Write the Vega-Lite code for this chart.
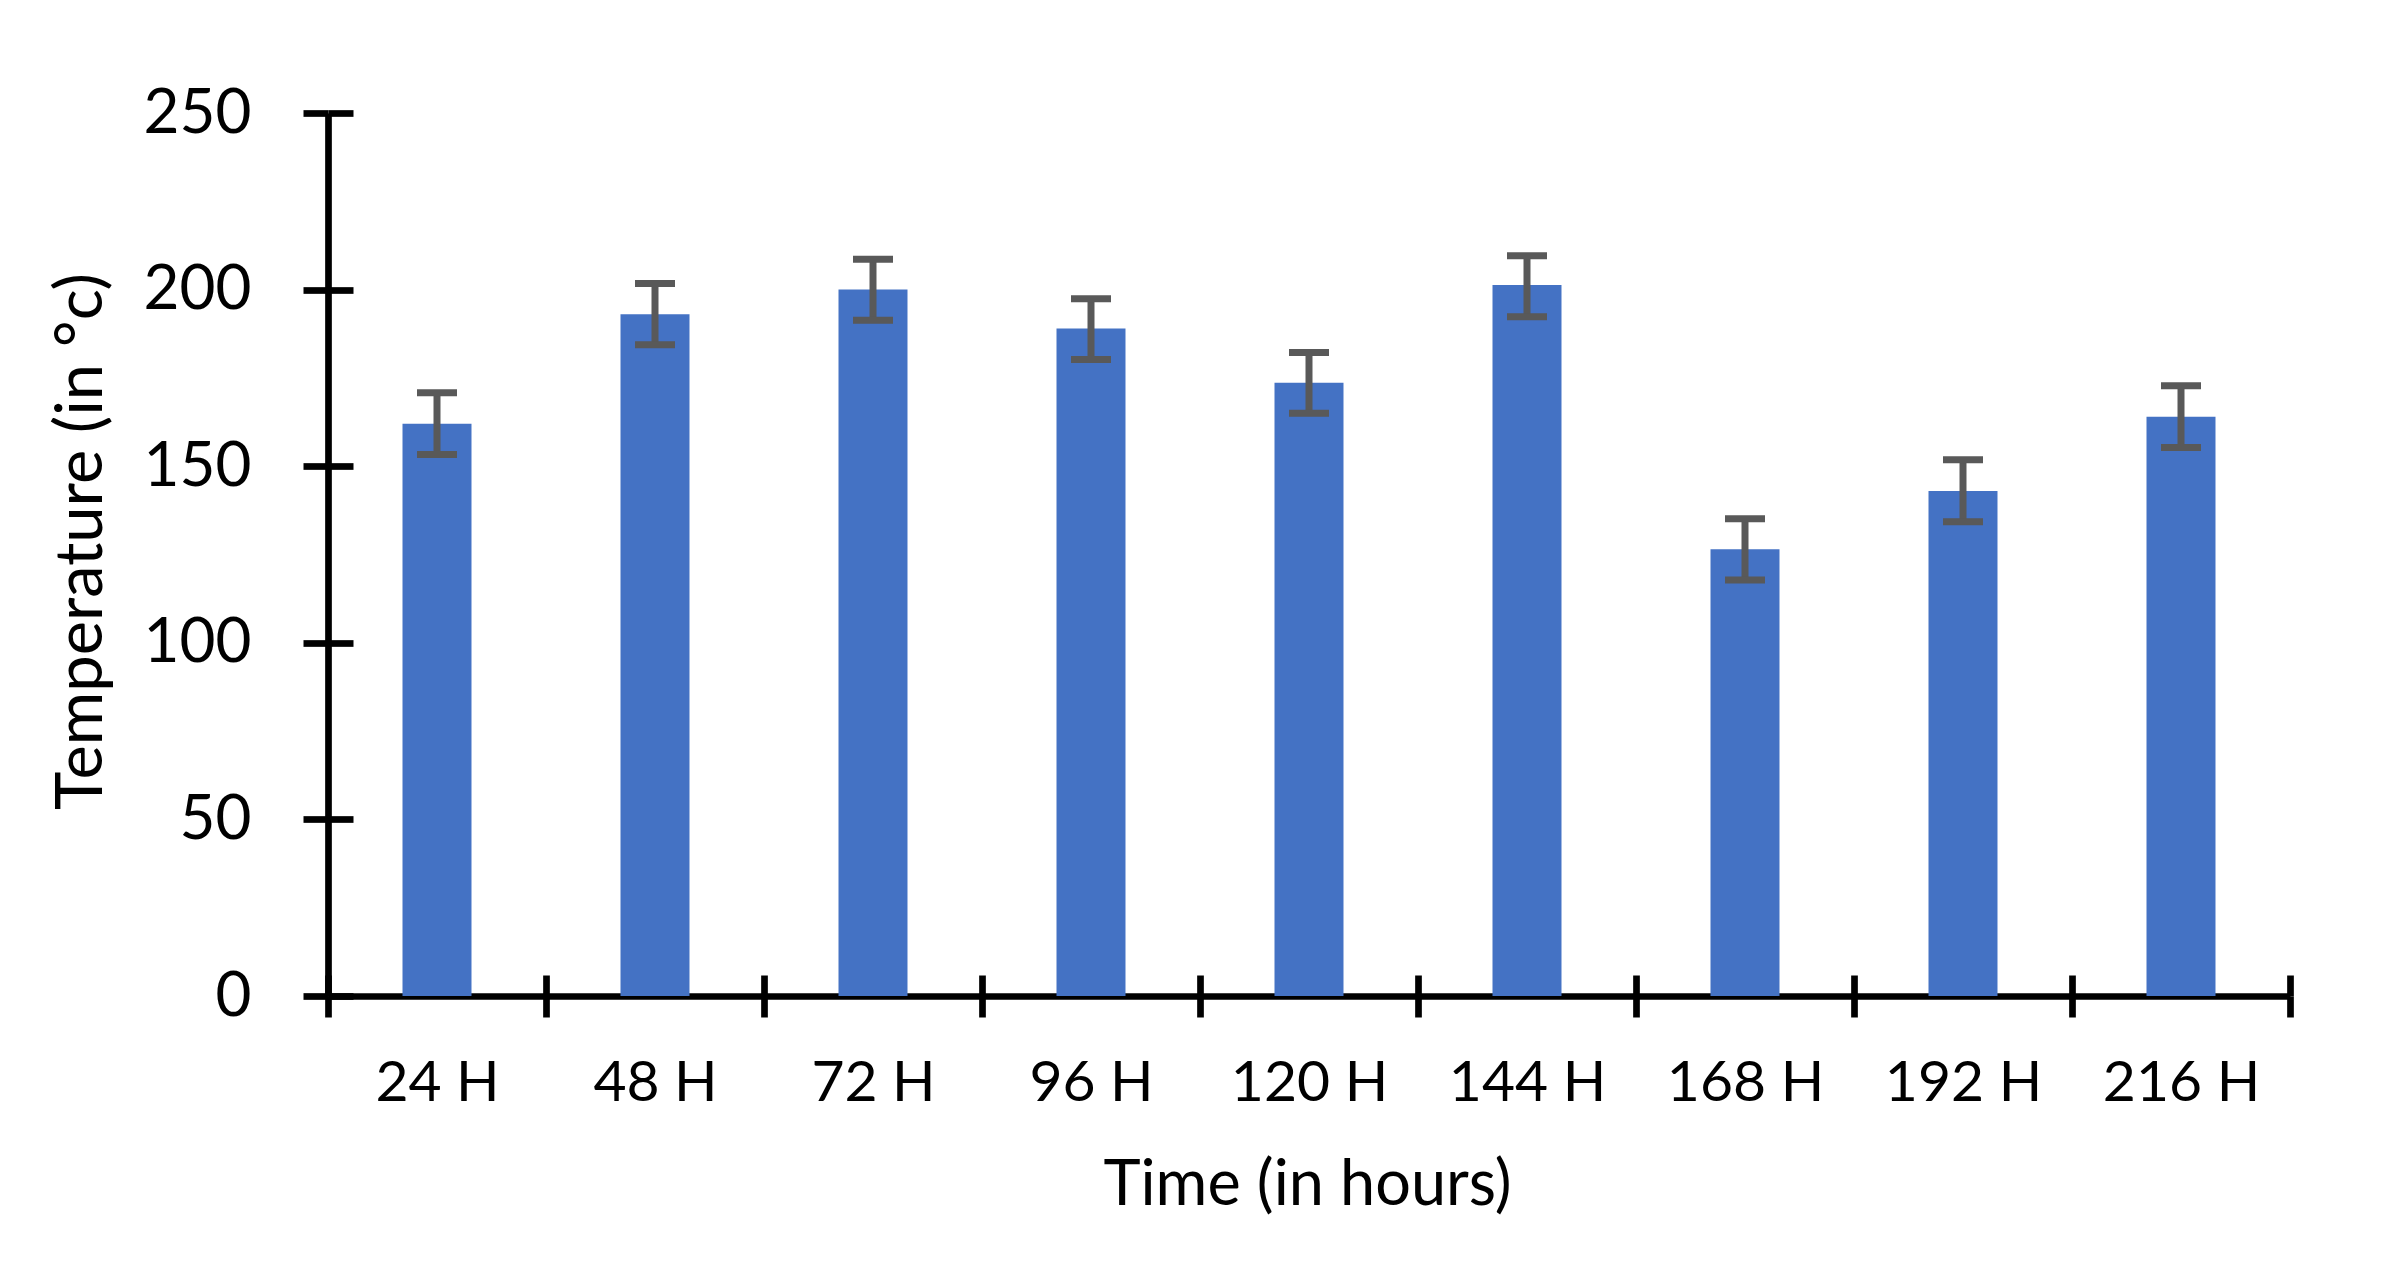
{
  "$schema": "https://vega.github.io/schema/vega-lite/v6.json",
  "autosize": "none",
  "width": 1962,
  "height": 883,
  "padding": {"left": 328, "top": 113, "right": 96, "bottom": 266},
  "background": "white",
  "config": {"view": {"stroke": null}, "font": "Lato"},
  "data": {
    "values": [
      {"time": "24 H", "temperature": 162.0, "lo": 153.3, "hi": 170.8},
      {"time": "48 H", "temperature": 193.0, "lo": 184.4, "hi": 201.7},
      {"time": "72 H", "temperature": 200.0, "lo": 191.3, "hi": 208.6},
      {"time": "96 H", "temperature": 189.0, "lo": 180.2, "hi": 197.4},
      {"time": "120 H", "temperature": 173.6, "lo": 165.0, "hi": 182.2},
      {"time": "144 H", "temperature": 201.3, "lo": 192.3, "hi": 209.6},
      {"time": "168 H", "temperature": 126.5, "lo": 117.8, "hi": 135.1},
      {"time": "192 H", "temperature": 143.0, "lo": 134.3, "hi": 151.8},
      {"time": "216 H", "temperature": 164.0, "lo": 155.3, "hi": 172.8}
    ]
  },
  "encoding": {
    "x": {
      "field": "time",
      "type": "nominal",
      "sort": null,
      "scale": {"paddingInner": 0, "paddingOuter": 0},
      "axis": {
        "title": "Time (in hours)",
        "titleFontSize": 63,
        "titleFontWeight": "normal",
        "titleColor": "black",
        "titleX": 979,
        "titleY": 208,
        "titleAlign": "center",
        "titleBaseline": "alphabetic",
        "labelAngle": 0,
        "labelFontSize": 57,
        "labelColor": "black",
        "labelPadding": 38,
        "tickBand": "extent",
        "tickSize": 21,
        "tickWidth": 6.7,
        "tickColor": "black",
        "domainColor": "black",
        "domainWidth": 6.7,
        "grid": true,
        "gridColor": "black",
        "gridWidth": 6.7,
        "gridDash": [21, 862],
        "gridDashOffset": 21
      }
    }
  },
  "layer": [
    {
      "mark": {"type": "bar", "color": "#4472C4", "width": {"band": 0.3165}},
      "encoding": {
        "y": {
          "field": "temperature",
          "type": "quantitative",
          "title": "Temperature (in °c)",
          "scale": {"domain": [0, 250], "nice": false},
          "axis": {
            "values": [0, 50, 100, 150, 200, 250],
            "titleFontSize": 65,
            "titleFontWeight": "normal",
            "titleColor": "black",
            "titleX": -227,
            "titleY": 428,
            "titleAlign": "center",
            "titleBaseline": "alphabetic",
            "labelFontSize": 62,
            "labelColor": "black",
            "labelPadding": 52,
            "tickSize": 25,
            "tickWidth": 6.7,
            "tickColor": "black",
            "domainColor": "black",
            "domainWidth": 6.7,
            "grid": true,
            "gridColor": "black",
            "gridWidth": 6.7,
            "gridDash": [25, 3000]
          }
        }
      }
    },
    {
      "mark": {"type": "rule", "color": "#595959", "strokeWidth": 7},
      "encoding": {
        "y": {"field": "lo", "type": "quantitative", "title": "Temperature (in °c)"},
        "y2": {"field": "hi"}
      }
    },
    {
      "mark": {"type": "tick", "color": "#595959", "thickness": 7, "size": 40, "opacity": 1},
      "encoding": {
        "y": {"field": "lo", "type": "quantitative", "title": "Temperature (in °c)"}
      }
    },
    {
      "mark": {"type": "tick", "color": "#595959", "thickness": 7, "size": 40, "opacity": 1},
      "encoding": {
        "y": {"field": "hi", "type": "quantitative", "title": "Temperature (in °c)"}
      }
    }
  ]
}
